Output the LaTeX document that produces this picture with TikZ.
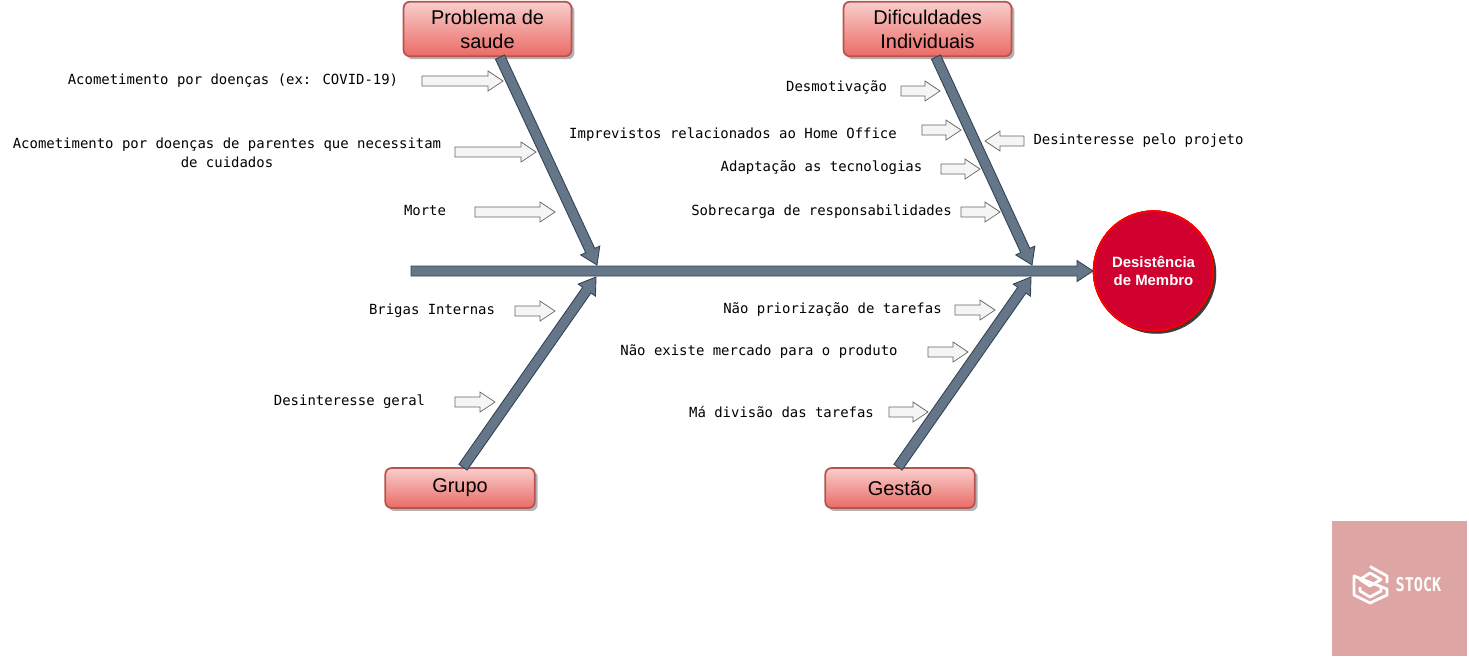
\documentclass[tikz,border=0pt]{standalone}
\usepackage{fontspec}
\setmainfont{Liberation Sans}
\newfontfamily\labelfont{DejaVu Sans Mono}
\usetikzlibrary{calc,shadows}
\definecolor{boneFill}{HTML}{647687}
\definecolor{boneDraw}{HTML}{314354}
\definecolor{boxTop}{HTML}{F8CECC}
\definecolor{boxBottom}{HTML}{EA6B66}
\definecolor{boxDraw}{HTML}{B85450}
\definecolor{markFill}{HTML}{DDA5A3}
\tikzset{
    causebox/.style={draw=boxDraw,line width=1pt,rounded corners=3.5pt,top color=boxTop,bottom color=boxBottom,
        minimum height=#1,inner sep=0pt,align=center,font=\fontsize{11.34}{13.6}\selectfont,
        general shadow={fill=black,opacity=0.3,shadow xshift=1.7pt,shadow yshift=-1.7pt}},
    causetext/.style={align=center,inner sep=0pt,font=\labelfont\fontsize{7.94}{10.8}\selectfont},
    boneline/.style={draw=boneDraw,fill=boneFill,line width=0.5pt},
    hintline/.style={draw=black!60,fill=black!4,line width=0.4pt},
    markline/.style={draw=white,line width=1.6pt,line join=round}
}
%% block arrow: style, from, to, half width, half head, head length (in px)
\newcommand{\blockarrow}[6]{
    \coordinate (neck) at ($(#3)!#6*0.02cm!(#2)$);
    \draw[#1] ($(#2)!#4*0.02cm!90:(#3)$) -- ($(neck)!#4*0.02cm!90:(#3)$) -- ($(neck)!#5*0.02cm!90:(#3)$) -- (#3)
        -- ($(neck)!#5*0.02cm!-90:(#3)$) -- ($(neck)!#4*0.02cm!-90:(#3)$) -- ($(#2)!#4*0.02cm!-90:(#3)$) -- cycle;
}
\begin{document}
\begin{tikzpicture}[x=0.02cm,y=-0.02cm]
    \useasboundingbox (0,0) rectangle (1469,657);
    %% watermark
    \fill[markFill] (1332,521) rectangle (1467,656);
    \draw[markline] (1370,566.5) -- (1387,576) -- (1387,583) (1387,589) -- (1387,595) -- (1370,603) -- (1354,595) -- (1354,576) -- cycle;
    \draw[markline] (1370,573) -- (1381,579.5) -- (1370,586) -- (1360,579.5) -- cycle;
    \draw[markline] (1360,587) -- (1360,591) -- (1370,597) -- (1381,591) -- (1381,587);
    \node[inner sep=0pt,white,xscale=0.8,font=\labelfont\bfseries\fontsize{10.8}{12}\selectfont] (stock) at (1418.5,585) {STOCK};
    %% spine
    \coordinate (spineStart) at (411,271);
    \coordinate (spineEnd) at (1093,271);
    \blockarrow{boneline}{spineStart}{spineEnd}{5}{10.5}{16}
    %% boxes
    \path (487.5,29) node[causebox=31pt,minimum width=95.5pt] (saude) {Problema de\\saude};
    \path (927.5,29) node[causebox=31pt,minimum width=95.5pt] (individuais) {Dificuldades\\Individuais};
    \path (460,488) node[causebox=22.7pt,minimum width=85pt] (grupo) {Grupo};
    \path (900,488) node[causebox=22.7pt,minimum width=85pt] (gestao) {Gestão};
    %% bones
    \coordinate (saudeTip) at (597,265);
    \coordinate (individuaisTip) at (1032,265);
    \coordinate (grupoTip) at (596,277);
    \coordinate (gestaoTip) at (1031,277);
    \coordinate (individuaisRoot) at ($(individuais.south)+(8.5,0)$);
    \coordinate (saudeRoot) at ($(saude.south)+(12.5,0)$);
    \coordinate (grupoRoot) at ($(grupo.north)+(3,0)$);
    \coordinate (gestaoRoot) at ($(gestao.north)+(-2,0)$);
    \foreach \b in {saude,individuais,grupo,gestao}
        \blockarrow{boneline}{\b Root}{\b Tip}{5}{10.5}{16}
    %% effect
    \node[circle,draw=black!30!red!50!black,line width=1pt,fill=red!40!black!0,minimum size=68pt,inner sep=0pt,text=white,align=center,
        font=\bfseries\fontsize{8.5}{10.2}\selectfont,fill={rgb:red,162;green,0;blue,37},draw={rgb:red,111;green,0;blue,0},
        general shadow={fill=black,opacity=0.3,shadow xshift=1.7pt,shadow yshift=-1.7pt}] (membro) at (1153.5,271) {Desistência\\de Membro};
    %% causes
    \node[causetext] (covid) at (233,81) {Acometimento por doenças (ex: COVID-19)};
    \node[causetext] (parentes) at (227,152.5) {Acometimento por doenças de parentes que necessitam\\de cuidados};
    \node[causetext] (morte) at (425,211) {Morte};
    \node[causetext] (desmotivacao) at (836.5,87) {Desmotivação};
    \node[causetext] (imprevistos) at (733,135) {Imprevistos relacionados ao Home Office};
    \node[causetext] (adaptacao) at (821.5,168) {Adaptação as tecnologias};
    \node[causetext] (sobrecarga) at (821.5,212) {Sobrecarga de responsabilidades};
    \node[causetext] (projeto) at (1138.5,141) {Desinteresse pelo projeto};
    \node[causetext] (brigas) at (432,311) {Brigas Internas};
    \node[causetext] (geral) at (349.5,402) {Desinteresse geral};
    \node[causetext] (priorizacao) at (832.5,310) {Não priorização de tarefas};
    \node[causetext] (mercado) at (759,352) {Não existe mercado para o produto};
    \node[causetext] (divisao) at (781.5,412) {Má divisão das tarefas};
    %% hint arrows
    \foreach \n/\xa/\xb/\yy in {covid/422/503/81,parentes/455/536/152,morte/475/555/212,desmotivacao/901/940/91,
        imprevistos/922/961/130,adaptacao/941/980/169,sobrecarga/961/1000/212,projeto/1024/985/141,
        brigas/515/555/311,geral/455/495/402,priorizacao/955/995/310,mercado/928/968/352,divisao/889/928/412}{
        \coordinate (\n From) at (\xa,\yy);
        \coordinate (\n To) at (\xb,\yy);
        \blockarrow{hintline}{\n From}{\n To}{5}{10}{15}
    }
\end{tikzpicture}
\end{document}
